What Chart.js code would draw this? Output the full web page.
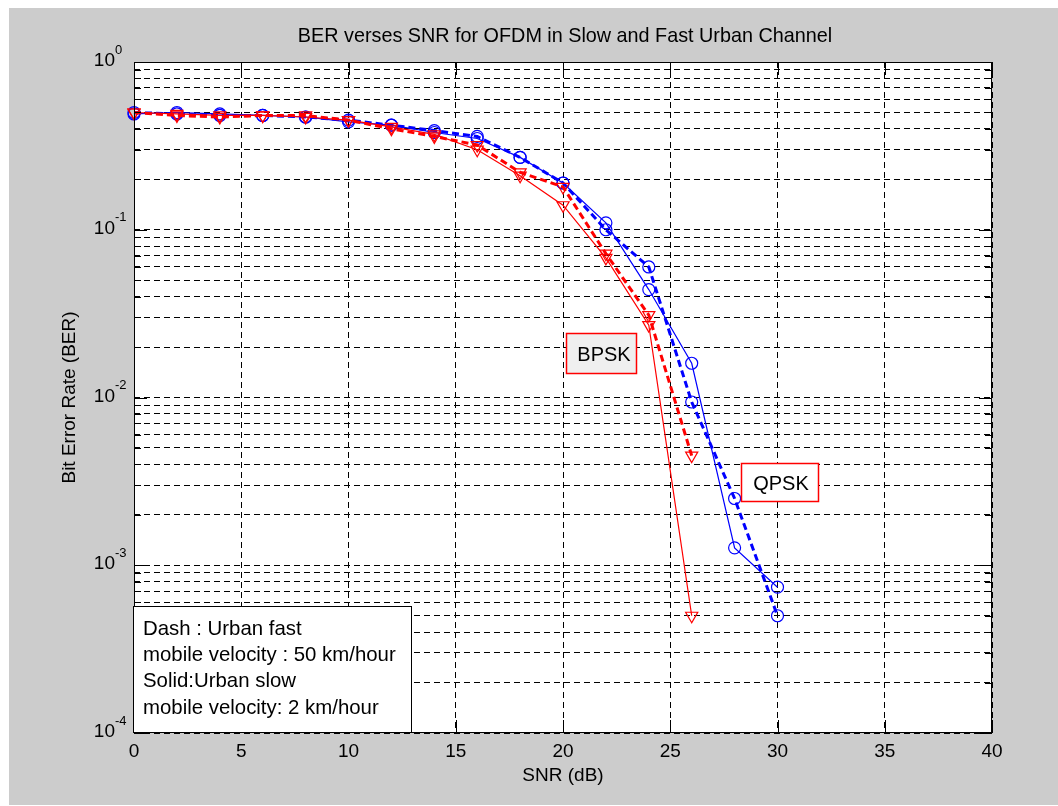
<!DOCTYPE html>
<html>
<head>
<meta charset="utf-8">
<script src="https://cdn.jsdelivr.net/npm/chart.js@4.4.1/dist/chart.umd.min.js"></script>
<style>
html,body{margin:0;padding:0;background:#fff;}
#wrap{width:1058px;height:806px;}
</style>
</head>
<body>
<div id="wrap"><canvas id="c" width="1058" height="806"></canvas></div>
<script>
// ---------- data ----------
const snr = [0, 2, 4, 6, 8, 10, 12, 14, 16, 18, 20, 22, 24, 26, 28, 30];
const qpskFast = [0.50, 0.49, 0.48, 0.48, 0.47, 0.45, 0.42, 0.39, 0.36, 0.27, 0.19, 0.100, 0.060, 0.0094, 0.0025, 0.00050];
const qpskSlow = [0.49, 0.50, 0.49, 0.48, 0.47, 0.44, 0.42, 0.38, 0.35, 0.27, 0.19, 0.110, 0.044, 0.016, 0.00127, 0.00074];
const bpskFast = [0.50, 0.48, 0.47, 0.48, 0.48, 0.45, 0.40, 0.36, 0.32, 0.22, 0.18, 0.072, 0.031, 0.0045];
const bpskSlow = [0.50, 0.49, 0.48, 0.48, 0.47, 0.45, 0.41, 0.37, 0.30, 0.21, 0.14, 0.068, 0.027, 0.0005];
const xTicks = [0, 5, 10, 15, 20, 25, 30, 35, 40];
const yDecadeExps = [0, -1, -2, -3, -4];
const yMantissas = [1, 2, 3, 4, 5, 6, 7, 8, 9];
const titleText = 'BER verses SNR for OFDM in Slow and Fast Urban Channel';
const xLabel = 'SNR (dB)';
const yLabel = 'Bit Error Rate (BER)';
const noteLines = ['Dash : Urban fast', 'mobile velocity : 50 km/hour', 'Solid:Urban slow', 'mobile velocity: 2 km/hour'];

// ---------- helpers ----------
const pts = (ys) => ys.map((v, i) => ({x: snr[i], y: v}));
const yTickVals = [];
yDecadeExps.slice().reverse().forEach(e => {
  yMantissas.forEach(m => { const v = m * Math.pow(10, e); if (v <= 1.0000001) yTickVals.push(v); });
});

const FONT = '"Liberation Sans", Arial, Helvetica, sans-serif';

const figPlugin = {
  id: 'fig',
  beforeDraw(chart) {
    const ctx = chart.ctx, a = chart.chartArea;
    ctx.save();
    ctx.fillStyle = '#ffffff';
    ctx.fillRect(0, 0, chart.width, chart.height);
    ctx.fillStyle = '#cccccc';
    ctx.fillRect(9, 8, chart.width - 9, chart.height - 9);
    ctx.fillStyle = '#ffffff';
    ctx.fillRect(a.left, a.top, a.right - a.left, a.bottom - a.top);
    ctx.restore();
  },
  afterDatasetsDraw(chart) {
    const ctx = chart.ctx, a = chart.chartArea;
    const xs = chart.scales.x, ys = chart.scales.y;
    ctx.save();
    // axes box
    ctx.strokeStyle = '#000';
    ctx.lineWidth = 1;
    ctx.setLineDash([]);
    ctx.strokeRect(a.left + 0.5, a.top + 0.5, a.right - a.left - 1, a.bottom - a.top - 1);
    // tick marks (inside)
    ctx.beginPath();
    xTicks.forEach(v => {
      const px = Math.round(xs.getPixelForValue(v)) + 0.5;
      ctx.moveTo(px, a.bottom); ctx.lineTo(px, a.bottom - 13);
      ctx.moveTo(px, a.top); ctx.lineTo(px, a.top + 13);
    });
    yTickVals.forEach(v => {
      const py = Math.round(ys.getPixelForValue(v)) + 0.5;
      const major = Math.abs(Math.log10(v) - Math.round(Math.log10(v))) < 1e-6;
      const len = major ? 13 : 7;
      ctx.moveTo(a.left, py); ctx.lineTo(a.left + len, py);
      ctx.moveTo(a.right, py); ctx.lineTo(a.right - len, py);
    });
    ctx.stroke();

    // x tick labels
    ctx.fillStyle = '#000';
    ctx.font = '19px ' + FONT;
    ctx.textAlign = 'center';
    ctx.textBaseline = 'middle';
    xTicks.forEach(v => ctx.fillText(String(v), xs.getPixelForValue(v), 752));
    // y tick labels 10^e
    yDecadeExps.forEach(e => {
      const py = ys.getPixelForValue(Math.pow(10, e));
      ctx.font = '19px ' + FONT;
      ctx.textAlign = 'right';
      ctx.textBaseline = 'middle';
      ctx.fillText('10', 115, py - 1);
      ctx.font = '13px ' + FONT;
      ctx.textAlign = 'left';
      ctx.fillText(String(e), 115, py - 12);
    });
    // title
    ctx.font = '19.8px ' + FONT;
    ctx.textAlign = 'center';
    ctx.textBaseline = 'middle';
    ctx.fillText(titleText, (a.left + a.right) / 2 + 2, 37);
    // x label
    ctx.font = '19px ' + FONT;
    ctx.fillText(xLabel, (a.left + a.right) / 2, 776);
    // y label
    ctx.save();
    ctx.translate(70, (a.top + a.bottom) / 2);
    ctx.rotate(-Math.PI / 2);
    ctx.fillText(yLabel, 0, 0);
    ctx.restore();

    // BPSK annotation
    ctx.fillStyle = '#efefef';
    ctx.fillRect(566, 333, 71, 41);
    ctx.strokeStyle = '#ff0000';
    ctx.lineWidth = 1.5;
    ctx.strokeRect(566.5, 333.5, 70, 40);
    ctx.fillStyle = '#000';
    ctx.font = '20px ' + FONT;
    ctx.textAlign = 'center';
    ctx.fillText('BPSK', 604, 355);
    // QPSK annotation
    ctx.fillStyle = '#ffffff';
    ctx.fillRect(741, 463, 78, 39);
    ctx.strokeRect(741.5, 463.5, 77, 38);
    ctx.fillStyle = '#000';
    ctx.fillText('QPSK', 781, 484);

    // note box
    ctx.fillStyle = '#ffffff';
    ctx.fillRect(133, 606, 279, 127);
    ctx.strokeStyle = '#000';
    ctx.lineWidth = 1;
    ctx.strokeRect(133.5, 606.5, 278, 126);
    ctx.fillStyle = '#000';
    ctx.font = '20.4px ' + FONT;
    ctx.textAlign = 'left';
    ctx.textBaseline = 'middle';
    noteLines.forEach((t, i) => ctx.fillText(t, 143, 629 + i * 26.3));
    ctx.restore();
  }
};

const common = {fill: false, tension: 0, clip: false, pointBackgroundColor: 'rgba(0,0,0,0)', pointBorderWidth: 1.2};
const datasets = [
  Object.assign({}, common, {label: 'BPSK slow', data: pts(bpskSlow), borderColor: '#ff0000', pointBorderColor: '#ff0000', borderWidth: 1.2, pointStyle: 'triangle', pointRotation: 180, pointRadius: 7}),
  Object.assign({}, common, {label: 'BPSK fast', data: pts(bpskFast), borderColor: '#ff0000', pointBorderColor: '#ff0000', borderWidth: 3, borderDash: [7, 4], pointStyle: 'triangle', pointRotation: 180, pointRadius: 7}),
  Object.assign({}, common, {label: 'QPSK slow', data: pts(qpskSlow), borderColor: '#0000ff', pointBorderColor: '#0000ff', borderWidth: 1.2, pointStyle: 'circle', pointRadius: 6}),
  Object.assign({}, common, {label: 'QPSK fast', data: pts(qpskFast), borderColor: '#0000ff', pointBorderColor: '#0000ff', borderWidth: 3, borderDash: [7, 4], pointStyle: 'circle', pointRadius: 6})
];

new Chart(document.getElementById('c'), {
  type: 'line',
  data: {datasets},
  options: {
    responsive: false,
    animation: false,
    devicePixelRatio: 1,
    layout: {padding: {left: 134, top: 62, right: 66, bottom: 73}},
    plugins: {legend: {display: false}, title: {display: false}, tooltip: {enabled: false}},
    scales: {
      x: {
        type: 'linear', min: 0, max: 40,
        afterBuildTicks: (s) => { s.ticks = xTicks.map(v => ({value: v})); },
        ticks: {display: false},
        grid: {color: '#000', lineWidth: 1, drawTicks: false},
        border: {display: false, dash: [6, 4]}
      },
      y: {
        type: 'logarithmic', min: 1e-4, max: 1,
        afterBuildTicks: (s) => { s.ticks = yTickVals.map(v => ({value: v})); },
        ticks: {display: false},
        grid: {color: '#000', lineWidth: 1, drawTicks: false},
        border: {display: false, dash: [6, 4]}
      }
    }
  },
  plugins: [figPlugin]
});
</script>
</body>
</html>
